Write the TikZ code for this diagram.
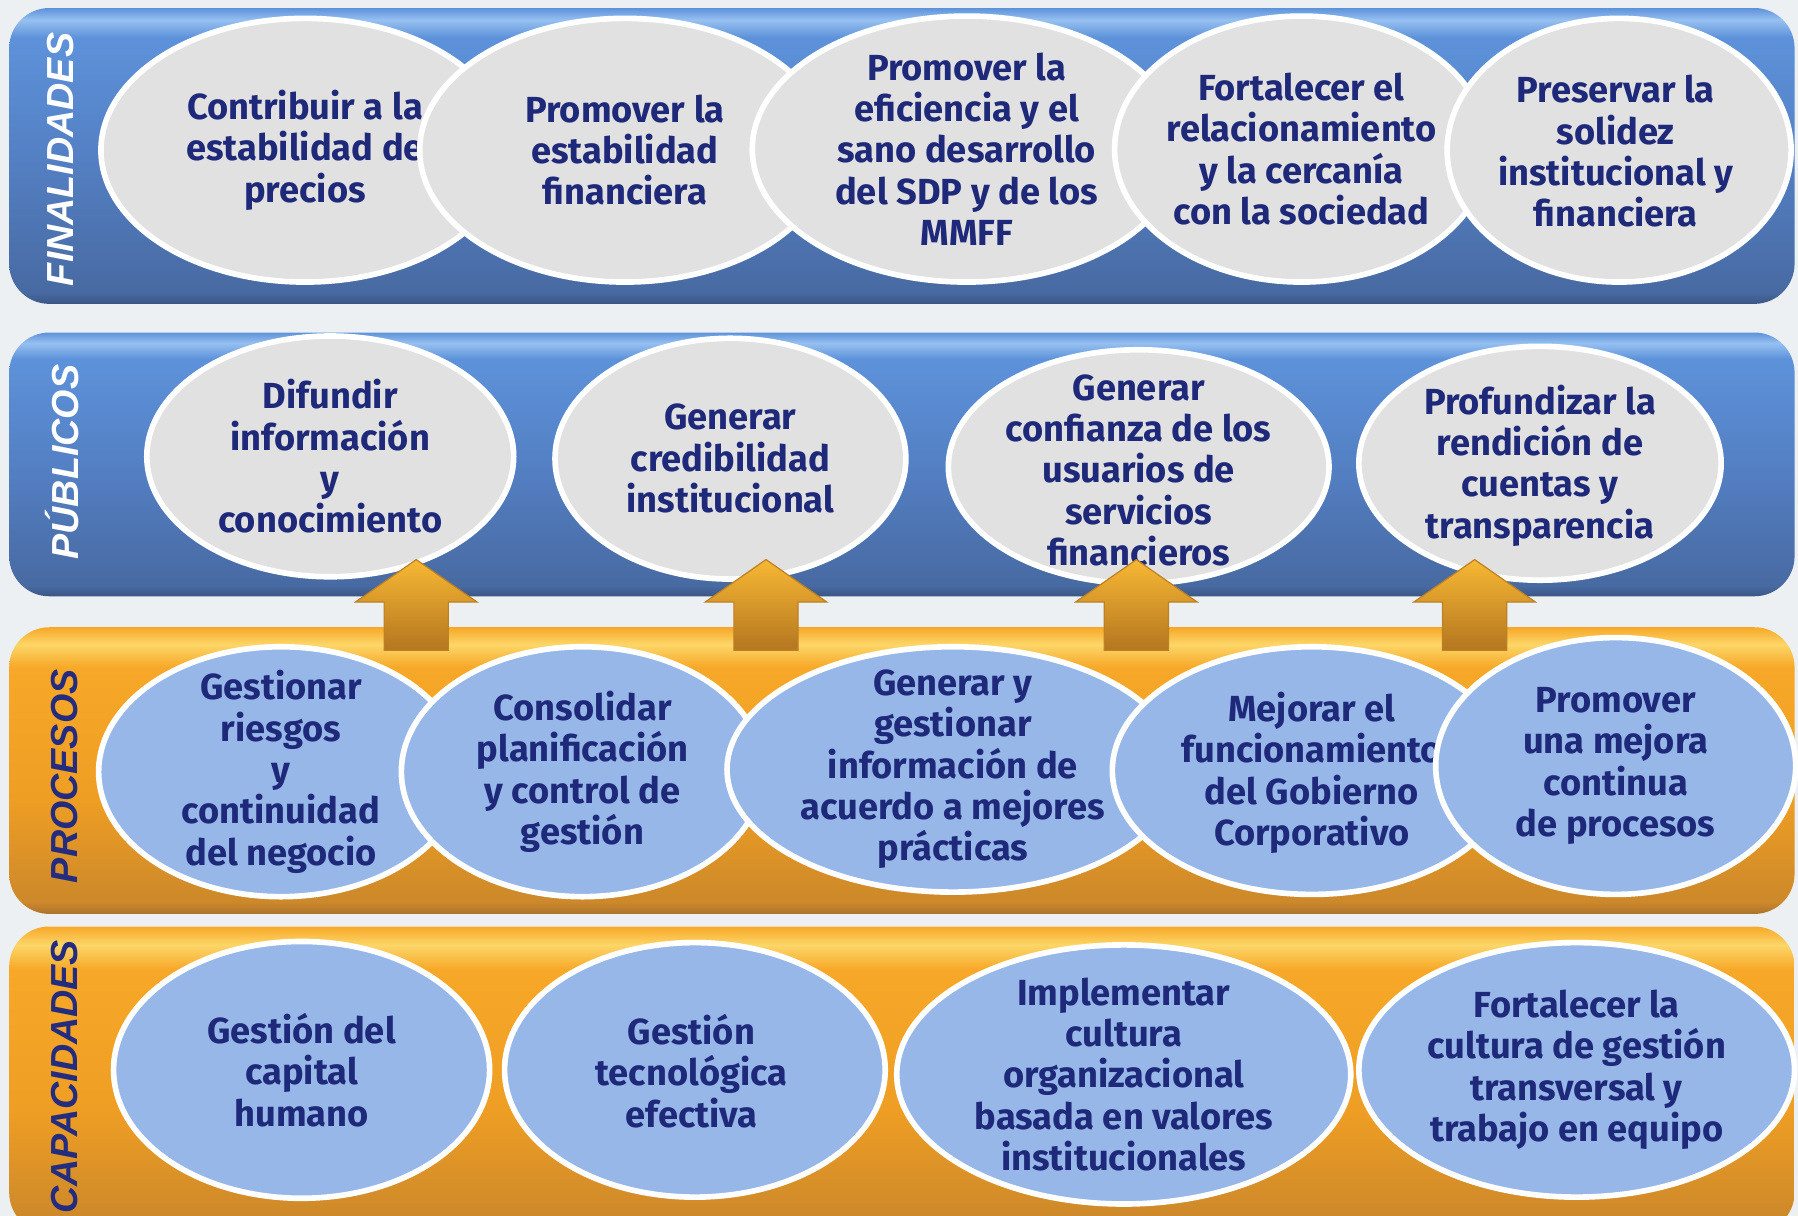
\documentclass[tikz,border=0pt]{standalone}
\usepackage{fontspec}
\setmainfont{Fira Sans}
\newfontfamily\lblfont{Liberation Sans}
\usetikzlibrary{shapes.geometric}
\definecolor{bgc}{RGB}{237,240,243}
\definecolor{navy}{RGB}{31,41,122}
\definecolor{grayfill}{RGB}{225,225,225}
\definecolor{bluefill}{RGB}{150,183,232}
\definecolor{btopedge}{RGB}{150,192,240}
\definecolor{btop}{RGB}{93,146,218}
\definecolor{bmid}{RGB}{84,128,196}
\definecolor{blow}{RGB}{72,106,162}
\definecolor{bbot}{RGB}{58,86,132}
\definecolor{otopedge}{RGB}{252,214,104}
\definecolor{otop}{RGB}{247,168,40}
\definecolor{omid}{RGB}{238,158,36}
\definecolor{olow}{RGB}{204,136,42}
\definecolor{obot}{RGB}{170,114,46}
\definecolor{arrtop}{RGB}{247,184,52}
\definecolor{arrbot}{RGB}{180,118,32}
\definecolor{arredge}{RGB}{190,128,36}
\definecolor{lblnavy}{RGB}{36,44,128}
\pgfdeclareverticalshading{blueband}{100bp}{color(0bp)=(bbot); color(25bp)=(bbot); color(27bp)=(blow); color(50bp)=(bmid); color(70bp)=(btop); color(73bp)=(btopedge); color(75bp)=(btop); color(100bp)=(btop)}
\pgfdeclareverticalshading{orangeband}{100bp}{color(0bp)=(obot); color(25bp)=(obot); color(27bp)=(olow); color(45bp)=(omid); color(68bp)=(otop); color(72bp)=(otopedge); color(75bp)=(otop); color(100bp)=(otop)}
\tikzset{
  band/.style={rounded corners=0.7cm},
  ellg/.style={ellipse, draw=white, line width=2.8pt, fill=grayfill, inner sep=0pt},
  ellb/.style={ellipse, draw=white, line width=2.8pt, fill=bluefill, inner sep=0pt},
  txt/.style={align=center, text=navy, inner sep=0pt, font=\bfseries\fontsize{18}{20.5}\selectfont},
  lblw/.style={rotate=90, text=white, inner sep=0pt, font=\lblfont\bfseries\itshape\fontsize{18.7}{20}\selectfont},
  lbln/.style={rotate=90, text=lblnavy, inner sep=0pt, font=\lblfont\bfseries\itshape\fontsize{18.7}{20}\selectfont},
  uparrow/.style={draw=arredge, line width=0.6pt, top color=arrtop, bottom color=arrbot}
}
\begin{document}
\begin{tikzpicture}[x=0.02cm, y=-0.02cm]
\useasboundingbox (0,0) rectangle (1568,1060.4);
\clip (0,0) rectangle (1568,1060.4);
\fill[bgc] (0,0) rectangle (1568,1060.4);
% bands
\shade[band, shading=blueband] (8,7) rectangle (1565,265);
\shade[band, shading=blueband] (8,290) rectangle (1565,520);
\shade[band, shading=orangeband] (8,547) rectangle (1565,797);
\shade[band, shading=orangeband] (8,808) rectangle (1565,1075);
% band labels
\node[lblw] (lfin) at (53,139) {FINALIDADES};
\node[lblw] (lpub) at (54,403) {PÚBLICOS};
\node[lbln] (lpro) at (56,677) {PROCESOS};
\node[lbln] (lcap) at (56,939) {CAPACIDADES};
% FINALIDADES
\node[ellg, minimum width=7.12cm, minimum height=4.6cm] (f1) at (266,131) {};
\node[txt] (f1t) at (f1.center) {Contribuir a la\\estabilidad de\\precios};
\node[ellg, minimum width=7.16cm, minimum height=4.6cm] (f2) at (545,131) {};
\node[txt] (f2t) at (f2.center) {Promover la\\estabilidad\\financiera};
\node[ellg, minimum width=7.48cm, minimum height=4.64cm] (f3) at (843,130) {};
\node[txt] (f3t) at (f3.center) {Promover la\\eficiencia y el\\sano desarrollo\\del SDP y de los\\MMFF};
\node[ellg, minimum width=6.52cm, minimum height=4.64cm] (f4) at (1135,130) {};
\node[txt] (f4t) at (f4.center) {Fortalecer el\\relacionamiento\\y la cercanía\\con la sociedad};
\node[ellg, minimum width=6.0cm, minimum height=4.6cm] (f5) at (1412,131) {};
\node[txt] (f5t) at (1409,132) {Preservar la\\solidez\\institucional y\\financiera};
% PUBLICOS
\node[ellg, minimum width=6.4cm, minimum height=4.2cm] (p1) at (288,398) {};
\node[txt] (p1t) at (p1.center) {Difundir\\información\\y\\conocimiento};
\node[ellg, minimum width=6.12cm, minimum height=4.2cm] (p2) at (637,400) {};
\node[txt] (p2t) at (p2.center) {Generar\\credibilidad\\institucional};
\node[ellg, minimum width=6.64cm, minimum height=4.08cm] (p3) at (993,407) {};
\node[txt] (p3t) at (993,410) {Generar\\confianza de los\\usuarios de\\servicios\\financieros};
\node[ellg, minimum width=6.32cm, minimum height=4.08cm] (p4) at (1343,404) {};
\node[txt] (p4t) at (1343,406) {Profundizar la\\rendición de\\cuentas y\\transparencia};
% arrows
\foreach \cx/\nm in {363/a1,668/a2,991/a3,1286/a4}{
  \shade[uparrow] (\cx,488) -- (\cx+53,525) -- (\cx+28,525) -- (\cx+28,567) -- (\cx-28,567) -- (\cx-28,525) -- (\cx-53,525) -- cycle;
}
% PROCESOS
\node[ellb, minimum width=6.36cm, minimum height=4.36cm] (r1) at (245,673) {};
\node[txt] (r1t) at (r1.center) {Gestionar\\riesgos\\y\\continuidad\\del negocio};
\node[ellb, minimum width=6.32cm, minimum height=4.36cm] (r2) at (508,673) {};
\node[txt] (r2t) at (r2.center) {Consolidar\\planificación\\y control de\\gestión};
\node[ellb, minimum width=7.88cm, minimum height=4.28cm] (r3) at (831,671) {};
\node[txt] (r3t) at (r3.center) {Generar y\\gestionar\\información de\\acuerdo a mejores\\prácticas};
\node[ellb, minimum width=6.96cm, minimum height=4.32cm] (r4) at (1144,672) {};
\node[txt] (r4t) at (1144,674) {Mejorar el\\funcionamiento\\del Gobierno\\Corporativo};
\node[ellb, minimum width=6.28cm, minimum height=4.48cm] (r5) at (1409,668) {};
\node[txt] (r5t) at (r5.center) {Promover\\una mejora\\continua\\de procesos};
% CAPACIDADES
\node[ellb, minimum width=6.56cm, minimum height=4.48cm] (c1) at (263,933) {};
\node[txt] (c1t) at (c1.center) {Gestión del\\capital\\humano};
\node[ellb, minimum width=6.64cm, minimum height=4.44cm] (c2) at (606,933) {};
\node[txt] (c2t) at (603,934) {Gestión\\tecnológica\\efectiva};
\node[ellb, minimum width=7.92cm, minimum height=4.52cm] (c3) at (980,937) {};
\node[txt] (c3t) at (c3.center) {Implementar\\cultura\\organizacional\\basada en valores\\institucionales};
\node[ellb, minimum width=7.6cm, minimum height=4.44cm] (c4) at (1375,933) {};
\node[txt] (c4t) at (c4.center) {Fortalecer la\\cultura de gestión\\transversal y\\trabajo en equipo};
\end{tikzpicture}
\end{document}
